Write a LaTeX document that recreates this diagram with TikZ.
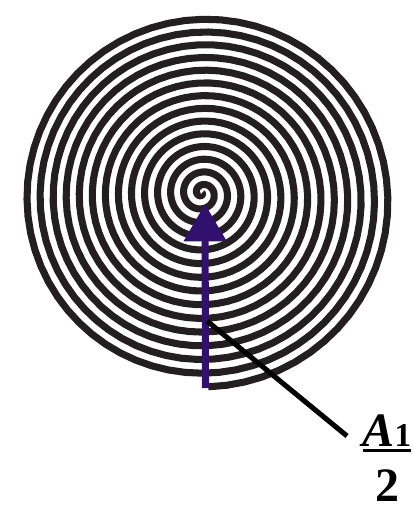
\documentclass[tikz,border=0pt]{standalone}
\usepackage{fontspec}
\setmainfont{Liberation Serif}
\usetikzlibrary{arrows.meta, calc}
\definecolor{sInk}{HTML}{231F20}
\definecolor{sPurple}{HTML}{32106E}

\begin{document}
\begin{tikzpicture}[x=0.75pt, y=-0.75pt,
  spiral/.style={line width=5.3pt, sInk, line join=round},
  probe/.style={-{Triangle[length=28pt, width=31pt]}, line width=5.3pt, sPurple},
  leader/.style={line width=3.8pt, black},
  fraclabel/.style={inner sep=0pt, anchor=base}]
  \useasboundingbox (0,0) rectangle (413,506);
  % spiral
  \draw[spiral] plot[domain=0:1, samples=900, variable=\t]
    ({202 + 2.2*\t + 187*\t*cos(5004 - 5094*\t)}, {193 + 6.9*\t - 187*\t*sin(5004 - 5094*\t)});
  % points
  \coordinate (base) at (205.5,388);
  \coordinate (tip) at (205,204);
  \coordinate (tap) at (207,321);
  \coordinate (lead) at (347,436);
  % label
  \node[fraclabel] (half) at (387,501)
    {\fontsize{36}{1}\selectfont\setlength{\arrayrulewidth}{2pt}%
     \begin{tabular}[b]{@{}c@{}}
       \textbf{\textit{A}}{\fontsize{25}{1}\selectfont\textbf{1}}\rule[-2pt]{0pt}{0pt}\\\hline
       \rule{0pt}{37pt}\textbf{2}
     \end{tabular}};
  % arrow and leader
  \draw[probe] (base) -- (tip);
  \draw[leader] (tap) -- (lead);
\end{tikzpicture}
\end{document}
